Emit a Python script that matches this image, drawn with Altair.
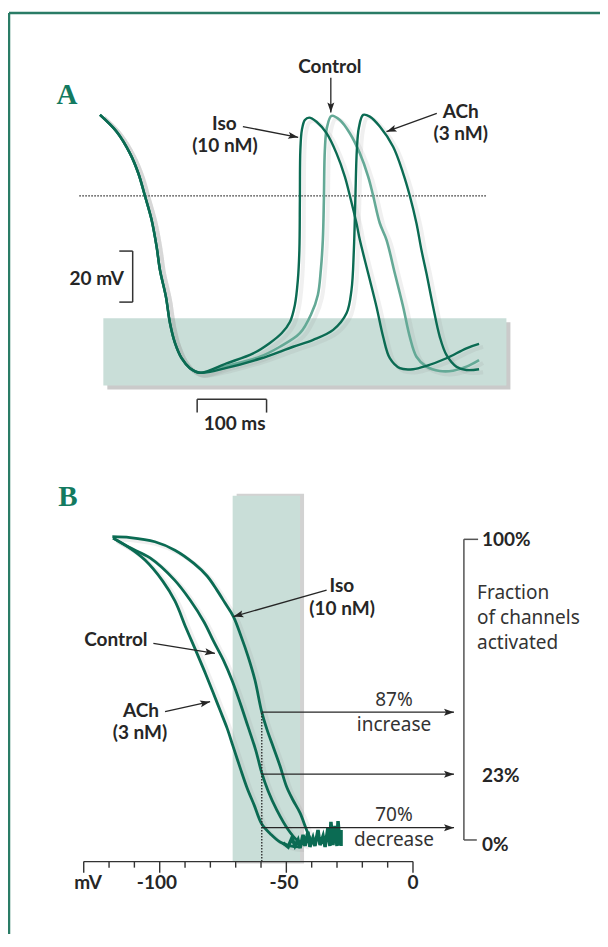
import altair as alt
import pandas as pd

DARK = "#0b6b53"
LIGHT = "#64a996"
INK = "#262626"
BAND = "#c9ded8"
FRAME = "#2a7c66"

# ---------------- Panel A : action potentials (time ms, membrane potential mV)
common_t = [0, 24, 43.2, 55.2, 64.8, 74.4, 81.6, 86.4, 95, 100.8, 108, 117.6, 129.6, 144]
common_v = [31.8, 25.2, 16.7, 8.9, 0, -9.4, -19.9, -29.0, -39.5, -49.8, -57.6, -63.6, -67.5, -69.3]

iso_t = [182.4, 220.8, 244.8, 262, 273.6, 280.8, 285.1, 287.3, 288, 288.7, 290.9, 295.2, 301.4, 312,
         326.4, 340.8, 352.8, 360, 369.6, 374.4, 386.4, 398.4, 408, 417.6, 432, 451.2, 470.4, 499.2, 528, 546.2]
iso_v = [-65.6, -61.7, -57.6, -53.7, -49.4, -42.7, -32.9, -21.2, -1.6, 18.0, 25.9, 29.8, 30.7, 29.1,
         24.6, 16.7, 7.6, 0.1, -10.7, -17.2, -30.3, -43.4, -55.2, -63.6, -67.5, -67.9, -66.6, -63.6, -59.7, -58.0]

ctl_t = [182.4, 230.4, 259.2, 288, 304.8, 313.9, 318.2, 321.1, 322.6, 324, 326.9, 333.6, 345.6, 360,
         374.4, 386.4, 393.6, 403.2, 412.8, 424.8, 436.8, 446.4, 456, 470.4, 489.6, 508.8, 528, 546.2]
ctl_v = [-66.6, -63.0, -59.1, -53.8, -46.0, -38.8, -29.0, -17.2, -1.6, 18.0, 26.7, 31.4, 29.8, 24.6,
         16.7, 7.6, 0.1, -10.7, -17.2, -30.3, -43.4, -55.2, -63.0, -66.9, -68.6, -68.5, -66.9, -64.3]

ach_t = [182.4, 230.4, 278.4, 307.2, 336, 355.2, 362.4, 365.8, 367.9, 370.1, 373, 379.2, 388.8,
         403.2, 422.4, 436.8, 446.4, 456, 463.2, 470.4, 480, 489.6, 499.2, 513.6, 528, 546.2]
ach_v = [-67.4, -63.8, -59.1, -56.4, -52.5, -46.0, -36.8, -21.2, -1.6, 18.0, 26.7, 31.8, 31.1,
         27.2, 19.3, 8.9, 0.1, -10.7, -21.2, -30.3, -43.4, -55.2, -62.3, -66.9, -68.2, -67.9]

# ---------------- Panel B : activation curves (mV, % of channels activated)
iso_b_mv = [-118.7, -111.7, -101.9, -94.0, -86.5, -81.3, -77.4, -74.2, -70.9, -67.9, -65.1, -62.4,
            -59.7, -57.6, -55.2, -52.5, -49.9, -47.4, -44.6, -42.0, -40.0]
iso_b_f = [100.9, 100.6, 99.2, 96.4, 92.0, 87.8, 83.1, 78.8, 74.3, 67.8, 61.0, 53.2,
           42.5, 36.6, 31.0, 24.6, 17.7, 13.3, 9.0, 3.3, -0.6]
ctl_b_mv = [-118.4, -112.5, -103.8, -94.2, -88.0, -82.5, -78.8, -74.9, -71.5, -68.2, -65.1, -62.1,
            -59.7, -57.2, -53.8, -49.2, -45.9, -42.6]
ctl_b_f = [100.4, 97.5, 93.8, 86.5, 79.8, 72.5, 66.2, 59.9, 53.2, 45.5, 37.6, 29.9,
           22.3, 16.3, 10.0, 3.3, 0.0, -1.7]
ach_b_mv = [-118.4, -112.5, -105.8, -98.8, -94.0, -89.6, -85.7, -82.2, -79.0, -76.2, -73.4, -71.1,
            -68.2, -65.5, -62.7, -59.7, -55.9, -52.5, -48.6, -44.6]
ach_b_f = [100.4, 97.5, 93.1, 86.1, 79.5, 70.5, 62.9, 55.9, 49.2, 43.2, 37.2, 31.3,
           23.9, 17.3, 11.6, 5.3, 1.7, -0.7, -2.0, -2.3]
tail_mv = [-51.3, -49.3, -47.8, -46.6, -45.4, -44.6, -43.4, -42.6, -41.5, -40.7, -39.5, -38.7, -37.5,
           -36.7, -35.5, -34.7, -33.6, -32.8, -32.4, -31.6, -30.8, -30.0, -29.6, -28.8, -28.4, -28.4]
tail_f = [-1.0, -2.3, 0.7, -2.0, 0.0, -2.7, 1.7, -2.0, 2.7, -2.3, 0.7, -2.0, 3.3,
          -1.7, 1.3, -2.3, 4.0, -2.0, 6.0, -1.7, 4.7, -2.0, 6.3, -1.7, 3.3, -2.0]

tick_mv = [-130, -120, -110, -100, -90, -80, -70, -60, -50, -40, -30, -20, -10, 0]
major_mv = [-130, -100, -50, 0]
axis_labels = ["mV", "-100", "-50", "0"]
axis_label_mv = [-128.3, -101.1, -50.9, 0]
level_pct = [42.5, 21.9, 4.1]   # Iso, Control, ACh at -60 mV

# ---------------- scales (data units -> pixels)
sAx = alt.Scale(domain=[0, 600], range=[92, 508.4], nice=False, zero=False)
sAy = alt.Scale(domain=[-100, 50], range=[443.1, 60.4], nice=False, zero=False)
sBx = alt.Scale(domain=[-140, 40], range=[50.4, 506.3], nice=False, zero=False)
sBy = alt.Scale(domain=[-20, 120], range=[892.1, 471.2], nice=False, zero=False)


def XA(f="x"):
    return alt.X(f"{f}:Q", scale=sAx, axis=None)


def YA(f="y"):
    return alt.Y(f"{f}:Q", scale=sAy, axis=None)


def XB(f="x"):
    return alt.X(f"{f}:Q", scale=sBx, axis=None)


def YB(f="y"):
    return alt.Y(f"{f}:Q", scale=sBy, axis=None)


def pts(xs, ys):
    return pd.DataFrame({"x": xs, "y": ys, "i": list(range(len(xs)))})


def segs(rows):
    return pd.DataFrame(rows, columns=["x", "y", "x2", "y2"])


ARROW = "M0,0L-2,-0.7L-1.6,0L-2,0.7Z"


def line_layer(df, X, Y, color, width, interp="catmull-rom", shadow=False):
    if shadow:
        m = alt.Chart(df).mark_line(interpolate=interp, color="#888888", opacity=0.13,
                                    strokeWidth=width + 4, xOffset=4, yOffset=3)
    else:
        m = alt.Chart(df).mark_line(interpolate=interp, color=color, strokeWidth=width)
    return m.encode(x=X(), y=Y(), order="i:Q")


def rules(df, X, Y, color=INK, width=1.4, dash=None):
    kw = dict(color=color, strokeWidth=width)
    if dash:
        kw["strokeDash"] = dash
    return alt.Chart(df).mark_rule(**kw).encode(x=X(), y=Y(), x2="x2:Q", y2="y2:Q")


def heads(df, X, Y, size=100):
    return alt.Chart(df).mark_point(shape=ARROW, filled=True, size=size, color=INK, opacity=1).encode(
        x=X("x2"), y=Y("y2"), angle=alt.Angle("ang:Q", scale=None))


def texts(df, X, Y, size, weight="bold", align="center", color=INK, font="Lato"):
    return alt.Chart(df).mark_text(font=font, fontSize=size, fontWeight=weight, align=align,
                                   baseline="middle", color=color).encode(
        x=X(), y=Y(), text="label:N")


# ---------------- Panel A layers
iso_df = pts(common_t + iso_t, common_v + iso_v)
ctl_df = pts(common_t + ctl_t, common_v + ctl_v)
ach_df = pts(common_t + ach_t, common_v + ach_v)

rectA = pd.DataFrame({"x": [4.8], "x2": [585.6], "y": [-74.3], "y2": [-47.9]})
bandA_shadow = alt.Chart(rectA).mark_rect(color="#b4b4b4", opacity=0.7, xOffset=4, x2Offset=4,
                                          yOffset=4, y2Offset=4).encode(
    x=XA(), x2="x2:Q", y=YA(), y2="y2:Q")
bandA = alt.Chart(rectA).mark_rect(color=BAND).encode(x=XA(), x2="x2:Q", y=YA(), y2="y2:Q")

dottedA = rules(segs([[-29.8, 0, 556.8, 0]]), XA, YA, width=1.3, dash=[1.5, 1.5])
barsA = rules(segs([[47.1, -21.6, 47.1, -41.6], [27.8, -21.6, 47.1, -21.6], [27.8, -41.6, 47.1, -41.6],
                    [140, -79.7, 240, -79.7], [140, -79.7, 140, -84.9], [240, -79.7, 240, -84.9]]),
              XA, YA, color="#333333", width=1.5)

arrA = pd.DataFrame({"x": [332.6, 205.9, 485.3], "y": [46.3, 27.2, 32.4],
                     "x2": [332.6, 285.6, 412.8], "y2": [32.7, 23.0, 25.2],
                     "ang": [90, 10.85, 159.9]})
txtA = pd.DataFrame({"label": ["Control", "Iso", "(10 nM)", "ACh", "(3 nM)", "100 ms"],
                     "x": [331.2, 179.3, 180, 519.8, 519.8, 194],
                     "y": [50.6, 28.2, 19.4, 33.1, 24.1, -89.4]})
txtA_r = pd.DataFrame({"label": ["20 mV"], "x": [34.6], "y": [-32.5]})
letterA = pd.DataFrame({"label": ["A"], "x": [-47.5], "y": [39.6]})

panelA = alt.layer(
    bandA_shadow, bandA, dottedA,
    line_layer(ctl_df, XA, YA, None, 0, shadow=True),
    line_layer(iso_df, XA, YA, None, 0, shadow=True),
    line_layer(ach_df, XA, YA, None, 0, shadow=True),
    line_layer(ctl_df, XA, YA, LIGHT, 2.6),
    line_layer(iso_df, XA, YA, DARK, 2.4),
    line_layer(ach_df, XA, YA, DARK, 2.4),
    barsA,
    rules(arrA, XA, YA, width=1.3),
    heads(arrA, XA, YA),
    texts(txtA, XA, YA, 19),
    texts(txtA_r, XA, YA, 19, align="right"),
    texts(letterA, XA, YA, 29, color="#137a60", font="Liberation Serif"),
)

# ---------------- Panel B layers
rectB = pd.DataFrame({"x": [-71.2], "x2": [-44.6], "y": [-7.2], "y2": [114.5]})
bandB_shadow = alt.Chart(rectB).mark_rect(color="#b4b4b4", opacity=0.6, xOffset=4, x2Offset=4,
                                          yOffset=2, y2Offset=-2).encode(
    x=XB(), x2="x2:Q", y=YB(), y2="y2:Q")
bandB = alt.Chart(rectB).mark_rect(color=BAND).encode(x=XB(), x2="x2:Q", y=YB(), y2="y2:Q")

isoB = pts(iso_b_mv, iso_b_f)
ctlB = pts(ctl_b_mv, ctl_b_f)
achB = pts(ach_b_mv, ach_b_f)
tailB = pts(tail_mv, tail_f)

axis_rows = [[-130, -7.2, 0, -7.2]]
for m in tick_mv:
    axis_rows.append([m, -7.2, m, -7.2 - (3.7 if m in major_mv else 2.0)])
axisB = rules(segs(axis_rows), XB, YB, color="#333333", width=1.4)
dottedB = rules(segs([[-59.7, -7.2, -59.7, 42.5]]), XB, YB, width=1.3, dash=[1.5, 1.5])
bracket = rules(segs([[20.1, 0, 20.1, 100], [20.1, 100, 25.7, 100], [20.1, 0, 25.2, 0]]),
                XB, YB, color="#555555", width=1.5)

arrB = pd.DataFrame({"x": [-59.7] * 3 + [-34.1, -102.5, -97.9],
                     "y": level_pct + [83.1, 65.4, 42.7],
                     "x2": [16.2] * 3 + [-70.9, -78.2, -80.1],
                     "y2": level_pct + [74.3, 62.1, 46.0],
                     "ang": [0, 0, 0, 164, 9.2, 347.5]})

txtB_c = pd.DataFrame({"label": ["Iso", "(10 nM)", "Control", "ACh", "(3 nM)"] + axis_labels,
                       "x": [-28.1, -28.0, -117.3, -107.4, -107.8] + axis_label_mv,
                       "y": [84.6, 76.8, 66.5, 43.0, 35.6] + [-14.3] * 4})
txtB_l = pd.DataFrame({"label": ["100%", "23%", "0%"], "x": [27.2, 27.2, 27.2],
                       "y": [99.8, 21.4, -1.7]})
txtB_reg = pd.DataFrame({"label": ["87%", "increase", "70%", "decrease"],
                         "x": [-7.5, -7.5, -7.5, -7.5], "y": [46.6, 38.2, 8.3, 0.0]})
txtB_frac = pd.DataFrame({"label": ["Fraction", "of channels", "activated"],
                          "x": [25.3, 25.3, 25.3], "y": [82.1, 73.8, 65.5]})
letterB = pd.DataFrame({"label": ["B"], "x": [-136.2], "y": [114.1]})

panelB = alt.layer(
    bandB_shadow, bandB,
    line_layer(isoB, XB, YB, None, 0, shadow=True),
    line_layer(ctlB, XB, YB, None, 0, shadow=True),
    line_layer(achB, XB, YB, None, 0, shadow=True),
    line_layer(isoB, XB, YB, DARK, 2.8),
    line_layer(ctlB, XB, YB, DARK, 2.8),
    line_layer(achB, XB, YB, DARK, 2.8),
    line_layer(tailB, XB, YB, DARK, 3.5, interp="linear"),
    dottedB, axisB, bracket,
    rules(arrB, XB, YB, width=1.3),
    heads(arrB, XB, YB),
    texts(txtB_c, XB, YB, 19),
    texts(txtB_l, XB, YB, 19, align="left"),
    texts(txtB_reg, XB, YB, 19, weight="normal", color="#333333", font="Noto Sans"),
    texts(txtB_frac, XB, YB, 19, weight="normal", align="left", color="#333333", font="Noto Sans"),
    texts(letterB, XB, YB, 29, color="#137a60", font="Liberation Serif"),
)

# ---------------- frame (decoration)
one = pd.DataFrame({"k": [0]})
frame = alt.layer(
    alt.Chart(one).mark_rule(color=FRAME, strokeWidth=2.5).encode(
        x=alt.value(1), x2=alt.value(700), y=alt.value(5), y2=alt.value(5)),
    alt.Chart(one).mark_rule(color=FRAME, strokeWidth=2.5).encode(
        x=alt.value(1), x2=alt.value(1), y=alt.value(5), y2=alt.value(1000)),
)

chart = alt.layer(panelA, panelB, frame).resolve_scale(
    x="independent", y="independent"
).properties(
    width=592, height=926, padding=0, autosize="none", background="white"
).configure_view(stroke=None)

chart.save("out.html", embed_options={"renderer": "svg", "actions": False})
